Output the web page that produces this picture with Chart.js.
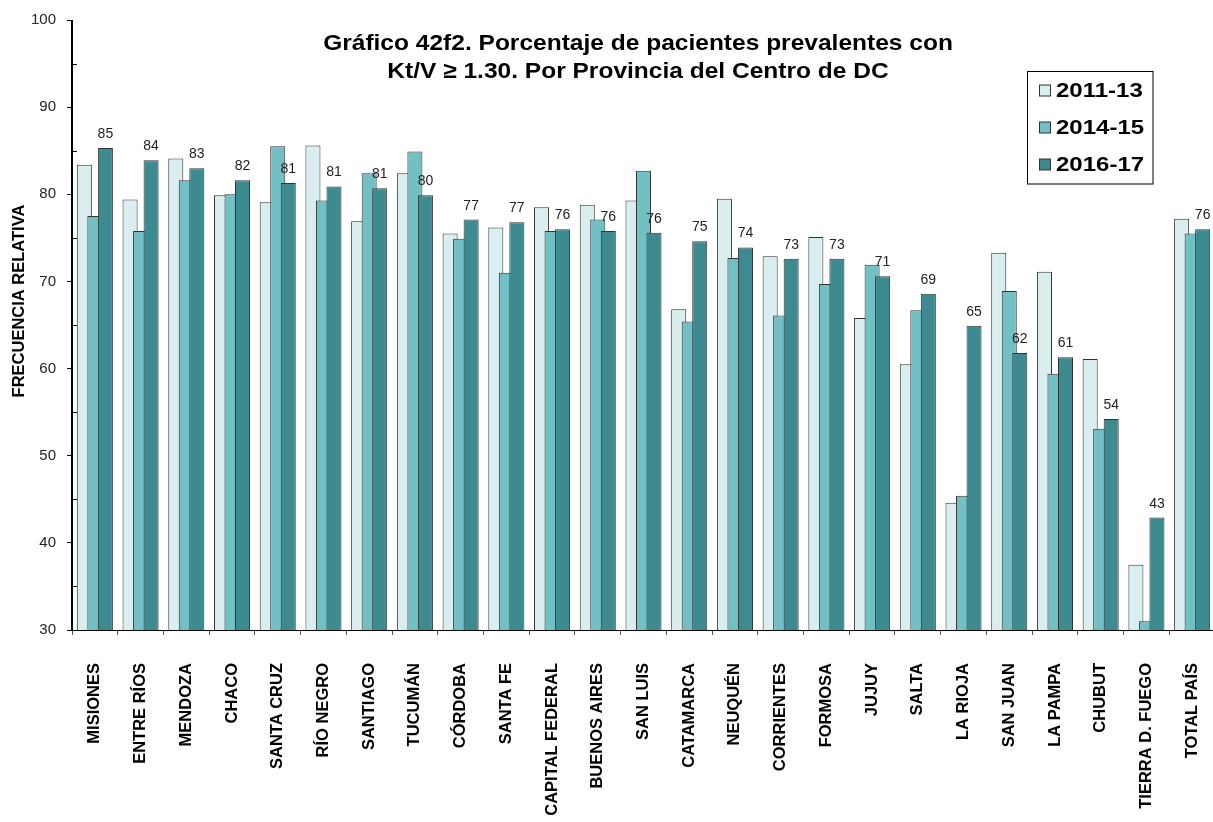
<!DOCTYPE html>
<html>
<head>
<meta charset="utf-8">
<script src="https://cdn.jsdelivr.net/npm/chart.js@4"></script>
<style>
  body { margin: 0; background: #fff; overflow: hidden; }
  canvas { display: block; }
</style>
</head>
<body>
<canvas id="kvChart" width="1216" height="822"></canvas>
<script>
const font = "'Liberation Sans', Arial, sans-serif";

const provincias = [
    'MISIONES', 'ENTRE RÍOS', 'MENDOZA', 'CHACO', 'SANTA CRUZ', 'RÍO NEGRO', 'SANTIAGO',
    'TUCUMÁN', 'CÓRDOBA', 'SANTA FE', 'CAPITAL FEDERAL', 'BUENOS AIRES', 'SAN LUIS',
    'CATAMARCA', 'NEUQUÉN', 'CORRIENTES', 'FORMOSA', 'JUJUY', 'SALTA', 'LA RIOJA',
    'SAN JUAN', 'LA PAMPA', 'CHUBUT', 'TIERRA D. FUEGO', 'TOTAL PAÍS'
];
const periodos = ['2011-13', '2014-15', '2016-17'];
const v2011_13 = [83.4, 79.4, 84.1, 79.9, 79.1, 85.6, 76.9, 82.4, 75.5, 76.2, 78.5, 78.8, 79.3,
                  66.8, 79.5, 72.9, 75.1, 65.8, 60.5, 44.6, 73.3, 71.1, 61.1, 37.5, 77.2];
const v2014_15 = [77.5, 75.8, 81.6, 80.0, 85.5, 79.3, 82.4, 84.9, 74.9, 71.0, 75.8, 77.1, 82.7,
                  65.4, 72.7, 66.1, 69.7, 71.9, 66.7, 45.4, 68.9, 59.4, 53.1, 31.0, 75.5];
const v2016_17 = [85.3, 83.9, 83.0, 81.6, 81.3, 80.9, 80.7, 79.9, 77.1, 76.8, 76.0, 75.8, 75.6,
                  74.6, 73.9, 72.6, 72.6, 70.6, 68.6, 64.9, 61.8, 61.3, 54.2, 42.9, 76.0];
const yTicks = [30, 40, 50, 60, 70, 80, 90, 100];

const colores = ['#daedef', '#72bfc4', '#3d8b91'];

// excel style: later series overlap the earlier ones
const drawOrder = {
    id: 'drawOrder',
    beforeDatasetDraw() { return false; },
    afterDatasetsDraw(chart) {
        const a = chart.chartArea;
        const ctx = chart.ctx;
        ctx.save();
        ctx.beginPath();
        ctx.rect(a.left, a.top - 5, a.right - a.left, a.bottom - a.top + 5);
        ctx.clip();
        chart.data.datasets.forEach((ds, i) => {
            chart.getDatasetMeta(i).controller.draw();
        });
        ctx.restore();
    }
};

const extras = {
    id: 'extras',
    afterDraw(chart) {
        const ctx = chart.ctx;
        const y = chart.scales.y;
        const area = chart.chartArea;
        ctx.save();

        // axis lines again over the bars
        ctx.strokeStyle = '#000';
        ctx.lineWidth = 1;
        ctx.beginPath();
        ctx.moveTo(area.left - 0.5, area.top);
        ctx.lineTo(area.left - 0.5, area.bottom);
        ctx.moveTo(area.left, area.bottom + 0.5);
        ctx.lineTo(area.right, area.bottom + 0.5);
        ctx.stroke();

        // minor ticks inside the axis
        for (let i = 0; i < yTicks.length - 1; i++) {
            const py = Math.round(y.getPixelForValue((yTicks[i] + yTicks[i + 1]) / 2)) + 0.5;
            ctx.beginPath();
            ctx.moveTo(area.left, py);
            ctx.lineTo(area.left + 5, py);
            ctx.stroke();
        }

        // value labels on last series
        const meta = chart.getDatasetMeta(2);
        ctx.fillStyle = '#222';
        ctx.font = '14px ' + font;
        ctx.textAlign = 'center';
        ctx.textBaseline = 'alphabetic';
        meta.data.forEach((bar, i) => {
            ctx.fillText(Math.round(v2016_17[i]), bar.x, bar.y - 10);
        });

        // title
        ctx.fillStyle = '#000';
        ctx.font = 'bold 22.5px ' + font;
        [['Gráfico 42f2. Porcentaje de pacientes prevalentes con', 50],
         ['Kt/V ≥ 1.30. Por Provincia del Centro de DC', 78]].forEach(([t, ty]) => {
            ctx.save();
            ctx.translate(638, ty);
            ctx.scale(1.09, 1);
            ctx.fillText(t, 0, 0);
            ctx.restore();
        });

        // y axis title
        ctx.save();
        ctx.translate(19, 301);
        ctx.rotate(-Math.PI / 2);
        ctx.font = 'bold 16.5px ' + font;
        ctx.textBaseline = 'middle';
        ctx.fillText('FRECUENCIA RELATIVA', 0, 0);
        ctx.restore();

        // legend
        ctx.fillStyle = '#fff';
        ctx.fillRect(1027.5, 71.5, 125.5, 112.5);
        ctx.strokeStyle = '#000';
        ctx.strokeRect(1027.5, 71.5, 125.5, 112.5);
        chart.data.datasets.forEach((ds, i) => {
            const cy = 90.5 + i * 37;
            ctx.fillStyle = ds.backgroundColor;
            ctx.fillRect(1039.5, cy - 5.5, 11, 11);
            ctx.strokeStyle = '#333';
            ctx.strokeRect(1039.5, cy - 5.5, 11, 11);
            ctx.save();
            ctx.translate(1056, cy + 1);
            ctx.scale(1.2, 1);
            ctx.fillStyle = '#000';
            ctx.font = 'bold 20px ' + font;
            ctx.textAlign = 'left';
            ctx.textBaseline = 'middle';
            ctx.fillText(ds.label, 0, 0);
            ctx.restore();
        });

        ctx.restore();
    }
};

new Chart(document.getElementById('kvChart'), {
    type: 'bar',
    data: {
        labels: provincias,
        datasets: [v2011_13, v2014_15, v2016_17].map((vals, i) => ({
            label: periodos[i],
            data: vals,
            backgroundColor: colores[i],
            borderColor: '#333',
            borderWidth: 1,
            categoryPercentage: 0.69,
            barPercentage: 1.43
        }))
    },
    options: {
        responsive: false,
        animation: false,
        layout: { padding: { top: 20, right: 1, bottom: 0, left: 0 } },
        plugins: {
            legend: { display: false },
            tooltip: { enabled: false }
        },
        scales: {
            x: {
                afterFit: s => {
                    s.height = 192;
                    s.paddingLeft = 0;
                    s.paddingRight = 0;
                },
                border: { color: '#000', width: 1 },
                grid: { offset: true, drawOnChartArea: false, tickLength: 5, color: '#555' },
                ticks: {
                    autoSkip: false,
                    minRotation: 90,
                    maxRotation: 90,
                    padding: 28,
                    color: '#000',
                    font: { family: font, size: 16.5, weight: 'bold' }
                }
            },
            y: {
                min: 30,
                max: 100,
                beginAtZero: false,
                afterFit: s => { s.width = 72; },
                afterBuildTicks: s => { s.ticks = yTicks.map(v => ({ value: v })); },
                border: { color: '#000', width: 1 },
                grid: { drawOnChartArea: false, tickLength: 5, color: '#000' },
                ticks: {
                    padding: 11,
                    color: '#222',
                    font: { family: font, size: 15 }
                }
            }
        }
    },
    plugins: [drawOrder, extras]
});
</script>
</body>
</html>
